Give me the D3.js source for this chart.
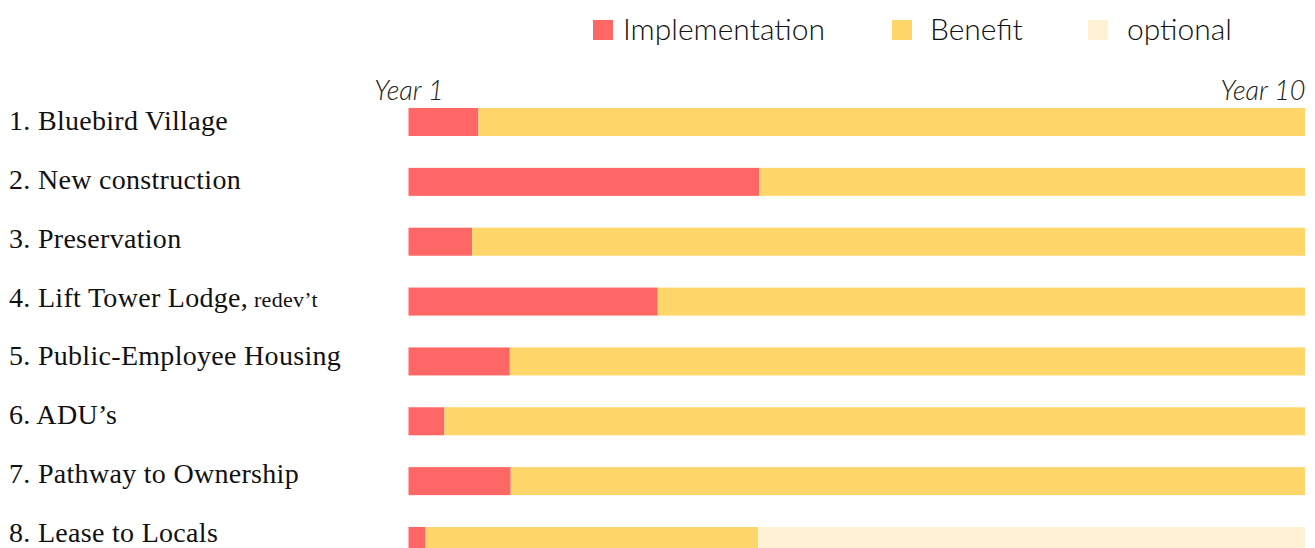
<!DOCTYPE html>
<html>
<head>
<meta charset="utf-8">
<script src="https://cdn.jsdelivr.net/npm/d3@7"></script>
<style>
  body { margin: 0; background: #fff; }
</style>
</head>
<body>
<script>
// row labels, the small note after label 4 is set in a smaller size
var categories = ["1. Bluebird Village", "2. New construction", "3. Preservation",
                  "4. Lift Tower Lodge,", "5. Public-Employee Housing", "6. ADU\u2019s",
                  "7. Pathway to Ownership", "8. Lease to Locals"];
var notes = ["", "", "", " redev\u2019t", "", "", "", ""];

// years spent in each phase (timeline runs from year 1 to year 10)
var implementation = [0.78, 3.91, 0.71, 2.78, 1.13, 0.40, 1.14, 0.19];
var benefit        = [9.22, 6.09, 9.29, 7.22, 8.87, 9.60, 8.86, 3.71];
var optional       = [0,    0,    0,    0,    0,    0,    0,    6.10];

var seriesKeys = ["Implementation", "Benefit", "optional"];
var tickLabels = ["Year 1", "Year 10"];

var width = 1315, height = 548;

var svg = d3.select("body").append("svg")
    .attr("width", width)
    .attr("height", height);

// build rows for the stack
var rows = categories.map(function(c, i) {
  return {name: c, Implementation: implementation[i], Benefit: benefit[i], optional: optional[i]};
});

var stack = d3.stack().keys(seriesKeys);
var stacked = stack(rows);

var x = d3.scaleLinear().domain([0, 10]).range([408.5, 1305]);
// bars are 28px tall on a ~60px step, the last one runs off the bottom
var y = d3.scaleBand()
    .domain(categories)
    .range([108, 555])
    .paddingInner(0.532)
    .paddingOuter(0);

// the labels sit on a slightly tighter step than the bars
var yLabel = d3.scalePoint()
    .domain(categories)
    .range([130, 542]);

var color = d3.scaleOrdinal()
    .domain(seriesKeys)
    .range(["#ff6666", "#fed66a", "#fff1d4"]);

// bars
svg.append("g")
  .selectAll("g")
  .data(stacked)
  .enter().append("g")
    .attr("fill", function(d) { return color(d.key); })
  .selectAll("rect")
  .data(function(d) { return d; })
  .enter().append("rect")
    .attr("x", function(d) { return x(d[0]); })
    .attr("width", function(d) { return x(d[1]) - x(d[0]); })
    .attr("y", function(d) { return y(d.data.name); })
    .attr("height", y.bandwidth());

// row labels
var labels = svg.append("g")
  .selectAll("text")
  .data(categories)
  .enter().append("text")
    .attr("x", 9)
    .attr("y", function(d) { return yLabel(d); })
    .style("font-family", "'Liberation Serif', 'DejaVu Serif', serif")
    .style("font-size", "28px")
    .style("letter-spacing", "0.3px")
    .style("fill", "#111");
labels.append("tspan").text(function(d) { return d; });
labels.append("tspan")
    .style("font-size", "22px")
    .text(function(d, i) { return notes[i]; });

// year ticks at the ends of the timeline
var axis = d3.axisTop(x)
    .tickValues([0, 10])
    .tickFormat(function(d, i) { return tickLabels[i]; })
    .tickSize(0)
    .tickPadding(0);

var ax = svg.append("g")
    .attr("transform", "translate(0,100)")
    .call(axis);
ax.select(".domain").remove();
ax.selectAll("text")
    .attr("dy", 0)
    .style("font-family", "Lato, 'Open Sans', sans-serif")
    .style("font-style", "italic")
    .style("font-weight", 300)
    .style("font-size", "27px")
    .style("fill", "#222")
    .attr("text-anchor", function(d) { return d === 10 ? "end" : "middle"; });

// legend
var legendX = [593, 892, 1088];
var legend = svg.append("g")
  .selectAll("g")
  .data(seriesKeys)
  .enter().append("g")
    .attr("transform", function(d, i) { return "translate(" + legendX[i] + ",20)"; });
legend.append("rect")
    .attr("width", 20)
    .attr("height", 20)
    .attr("fill", function(d) { return color(d); });
legend.append("text")
    .attr("x", function(d, i) { return i === 2 ? 39 : i === 1 ? 38 : 30; })
    .attr("y", 20)
    .style("font-family", "Lato, 'Open Sans', sans-serif")
    .style("font-weight", 300)
    .style("font-size", "30px")
    .style("fill", "#111")
    .text(function(d) { return d; });
</script>
</body>
</html>
